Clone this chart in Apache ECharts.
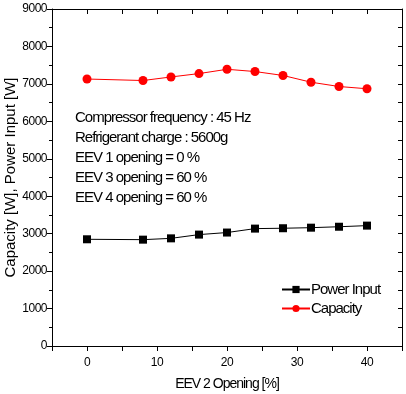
<!DOCTYPE html>
<html><head><meta charset="utf-8">
<script src="https://cdn.jsdelivr.net/npm/echarts@6/dist/echarts.min.js"></script>
<style>html,body{margin:0;padding:0;background:#fff}#c{width:406px;height:394px}</style>
</head><body><div id="c"></div>
<script>
const xValues = [0, 8, 12, 16, 20, 24, 28, 32, 36, 40];
const powerInput = [2850, 2840, 2875, 2975, 3030, 3135, 3145, 3160, 3185, 3215];
const capacity = [7130, 7090, 7185, 7275, 7390, 7330, 7225, 7045, 6930, 6870];
const annotations = [
  'Compressor frequency : 45 Hz',
  'Refrigerant charge : 5600g',
  'EEV 1 opening = 0 %',
  'EEV 3 opening = 60 %',
  'EEV 4 opening = 60 %'
];
// condensed look: tighten letter spacing for fonts tagged with "condx"
(function () {
  const P = CanvasRenderingContext2D.prototype;
  const orig = P.fillText;
  P.fillText = function (t, x, y, m) {
    if ('letterSpacing' in this) {
      const f = this.font || '';
      this.letterSpacing = f.indexOf('condx') >= 0 ? '-1px' : (f.indexOf('condy') >= 0 ? '-0.5px' : '0px');
    }
    return m === undefined ? orig.call(this, t, x, y) : orig.call(this, t, x, y, m);
  };
})();
const COND = '"Liberation Sans", condx, Arial, sans-serif';
const COND2 = '"Liberation Sans", condy, Arial, sans-serif';
const SANS = '"Liberation Sans", Arial, sans-serif';
const chart = echarts.init(document.getElementById('c'));
const axisLine = {show: true, onZero: false, lineStyle: {color: '#000', width: 1}};
chart.setOption({
  animation: false,
  backgroundColor: '#fff',
  grid: {left: 52, right: 4, top: 9, bottom: 48, containLabel: false, outerBoundsMode: 'none'},
  legend: {
    orient: 'vertical', left: 276, top: 277, itemGap: 4, itemWidth: 28, itemHeight: 9,
    textStyle: {fontFamily: COND, fontSize: 15, color: '#000', padding: [0,0,0,-4]},
    data: ['Power Input', 'Capacity']
  },
  xAxis: [{
    type: 'value', min: -5, max: 45, interval: 5,
    name: 'EEV 2 Opening [%]', nameLocation: 'middle', nameGap: 31, nameMoveOverlap: false,
    nameTextStyle: {fontFamily: COND, fontSize: 14, color: '#000'},
    axisLine: axisLine,
    axisTick: {show: true, inside: false, length: 5, lineStyle: {color: '#000'}},
    axisLabel: {fontFamily: COND2, fontSize: 12, color: '#000', margin: 11,
      formatter: v => (v % 10 === 0 && v >= 0 && v <= 40) ? String(v) : ''},
    splitLine: {show: false}
  }, {
    type: 'value', position: 'top', min: -5, max: 45, interval: 5,
    axisLine: axisLine,
    axisTick: {show: true, inside: true, length: 5, lineStyle: {color: '#000'}},
    axisLabel: {show: false}, splitLine: {show: false}
  }],
  yAxis: [{
    type: 'value', min: 0, max: 9000, interval: 1000,
    name: 'Capacity [W], Power Input [W]', nameLocation: 'middle', nameGap: 34, nameMoveOverlap: false,
    nameTextStyle: {fontFamily: SANS, fontSize: 15, color: '#000'},
    axisLine: axisLine,
    axisTick: {show: true, inside: false, length: 5, lineStyle: {color: '#000'}},
    minorTick: {show: true, splitNumber: 2, length: 3, lineStyle: {color: '#000'}},
    axisLabel: {fontFamily: COND2, fontSize: 12, color: '#000', margin: 5, formatter: v => String(v)},
    splitLine: {show: false}, minorSplitLine: {show: false}
  }, {
    type: 'value', position: 'right', min: 0, max: 9000, interval: 500,
    axisLine: axisLine,
    axisTick: {show: true, inside: true, length: 4, lineStyle: {color: '#000'}},
    axisLabel: {show: false}, splitLine: {show: false}
  }],
  series: [{
    name: 'Power Input', type: 'line', xAxisIndex: 0, yAxisIndex: 0,
    data: xValues.map((x, i) => [x, powerInput[i]]),
    symbol: 'rect', symbolSize: 8,
    itemStyle: {color: '#000'}, lineStyle: {color: '#000', width: 1}
  }, {
    name: 'Capacity', type: 'line', xAxisIndex: 0, yAxisIndex: 0,
    data: xValues.map((x, i) => [x, capacity[i]]),
    symbol: 'circle', symbolSize: 9,
    itemStyle: {color: '#ff0000'}, lineStyle: {color: '#ff0000', width: 1}
  }],
  graphic: annotations.map((t, i) => ({
    type: 'text', left: 75, top: 110 + i * 20,
    style: {text: t, fontFamily: COND, fontSize: 15, fill: '#000'}
  }))
});
</script></body></html>
